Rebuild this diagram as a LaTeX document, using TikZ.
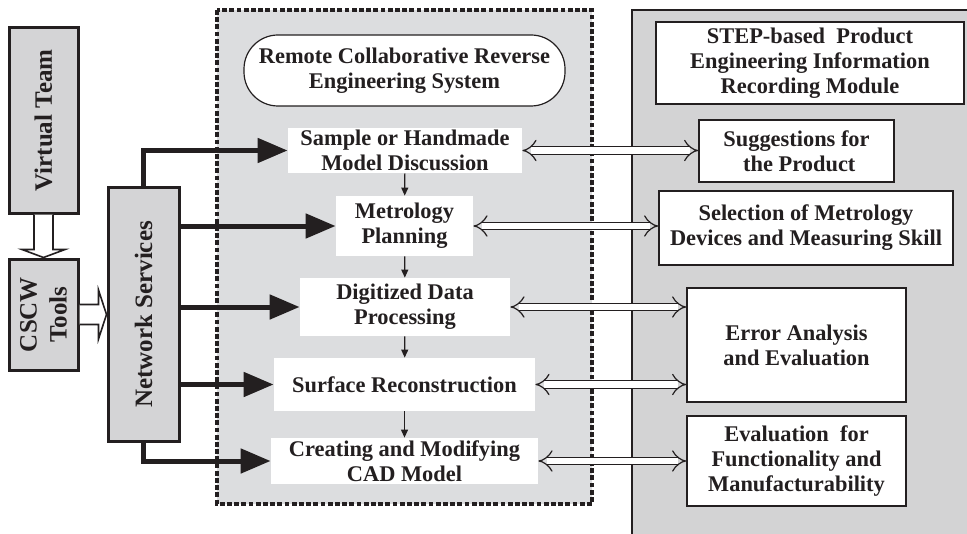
\documentclass[tikz,border=0pt]{standalone}
\usepackage{fontspec}
\setmainfont{Liberation Serif}
\usepackage{xcolor}
\usetikzlibrary{arrows.meta, positioning, calc}

\definecolor{boxgray}{HTML}{D4D4D6}
\definecolor{dotgray}{HTML}{DCDDDF}
\definecolor{panelgray}{HTML}{D3D3D4}
\definecolor{inkgray}{HTML}{231F20}

\begin{document}
\begin{tikzpicture}[x=0.5pt, y=-0.5pt,
    leftbox/.style={draw=inkgray, line width=1.5pt, fill=boxgray, inner sep=0pt, align=center,
        text=inkgray, font=\fontsize{12.5}{15}\selectfont\bfseries},
    stagebox/.style={fill=white, inner sep=0pt, align=center, text=inkgray,
        font=\fontsize{11.2}{12.5}\selectfont\bfseries},
    infobox/.style={draw=inkgray, line width=0.8pt, fill=white, inner sep=0pt, align=center,
        text=inkgray, font=\fontsize{11.2}{12.5}\selectfont\bfseries},
    feed/.style={draw=inkgray, line width=2.5pt, -{Triangle[length=15pt, width=12pt]}},
    flow/.style={draw=inkgray, line width=0.6pt, -{Triangle[length=4pt, width=3.5pt]}},
    link/.style={draw=inkgray, line width=0.6pt, double=white, double distance=3.2pt, {Implies}-{Implies}},
    blockarrow/.style={draw=inkgray, line width=0.8pt, fill=white, line join=miter}
]
    \useasboundingbox (0,0) rectangle (967,534);

    % Background areas
    \draw[inkgray, line width=1pt, fill=panelgray] (632,560) -- (632,10) -- (1000,10) -- (1000,560);
    \draw[inkgray, line width=1.8pt, fill=dotgray, dash pattern=on 2.4pt off 1.2pt]
        (217,10) rectangle (592,504);

    % Left-hand boxes
    \node[leftbox, rotate=90, minimum width=92.5pt, minimum height=34.5pt] (vteam) at (43.5,120.5) {Virtual Team};
    \node[leftbox, rotate=90, minimum width=55.5pt, minimum height=34.5pt] (cscw) at (43.5,314.5) {CSCW\\Tools};
    \node[leftbox, rotate=90, minimum width=126.5pt, minimum height=35.5pt] (netserv) at (143.5,314.5) {Network Services};

    % Reverse engineering stages
    \node[draw=inkgray, line width=0.6pt, fill=white, rounded corners=17pt, minimum width=160.5pt,
        minimum height=35.5pt, inner sep=0pt, align=center, text=inkgray,
        font=\fontsize{11.2}{12.5}\selectfont\bfseries] (rcres) at (404.5,70.5)
        {Remote Collaborative Reverse\\Engineering System};
    \node[stagebox, minimum width=117pt, minimum height=22.5pt] (sample) at (405,150.5) {Sample or Handmade\\Model Discussion};
    \node[stagebox, minimum width=68.5pt, minimum height=30pt] (metro) at (404.5,226) {Metrology\\Planning};
    \node[stagebox, minimum width=105pt, minimum height=29pt] (digit) at (405,307) {Digitized Data\\Processing};
    \node[stagebox, minimum width=130.5pt, minimum height=26.5pt] (surf) at (404.5,384.5) {Surface Reconstruction};
    \node[stagebox, minimum width=133.5pt, minimum height=23pt] (cad) at (404.5,461) {Creating and Modifying\\CAD Model};

    % Recording module
    \node[infobox, minimum width=154pt, minimum height=41pt] (step) at (810,63) {STEP-based\ \ Product\\Engineering Information\\Recording Module};
    \node[infobox, minimum width=97.5pt, minimum height=31pt] (sugg) at (796.5,151) {Suggestions for\\\ the Product};
    \node[infobox, minimum width=147pt, minimum height=37pt] (sel) at (806,228) {Selection of Metrology\\Devices and Measuring Skill};
    \node[infobox, minimum width=109.5pt, minimum height=57pt] (err) at (796.5,345) {Error Analysis\\and Evaluation};
    \node[infobox, minimum width=109.5pt, minimum height=45pt] (evalb) at (796.5,461) {Evaluation\ \ for\\Functionality and\\Manufacturability};

    % Tool chain (rotated boxes: west = bottom, east = top, north = left, south = right)
    \draw[blockarrow] ($(vteam.west)+(-9.5,0)$) -- ($(cscw.east)+(-9.5,-8)$) -- ++(-12,0)
        -- (cscw.east) -- ++(21.5,-8) -- ++(-12,0) -- ($(vteam.west)+(9.5,0)$);
    \draw[blockarrow] ($(cscw.south)+(0,-10)$) -- ($(netserv.north)+(-8,-10)$) -- ++(0,-14.5)
        -- (netserv.north) -- ++(-8,24.5) -- ++(0,-14.5) -- ($(cscw.south)+(0,10)$);

    % Network services feeding every stage
    \draw[feed] (netserv.east) |- (sample.west);
    \foreach \s in {metro, digit, surf} {
        \draw[feed] (netserv.south |- \s.west) -- (\s.west);
    }
    \draw[feed] (netserv.west) |- (cad.west);

    % Stage sequence
    \foreach \a/\b in {sample/metro, metro/digit, digit/surf, surf/cad} {
        \draw[flow] (\a) -- (\b);
    }

    % Exchange with the recording module
    \draw[link] (sample.east) -- (sample.east -| sugg.west);
    \draw[link] (metro.east) -- (metro.east -| sel.west);
    \draw[link] (digit.east) -- (digit.east -| err.west);
    \draw[link] (surf.east) -- (surf.east -| err.west);
    \draw[link] (cad.east) -- (cad.east -| evalb.west);
\end{tikzpicture}
\end{document}
